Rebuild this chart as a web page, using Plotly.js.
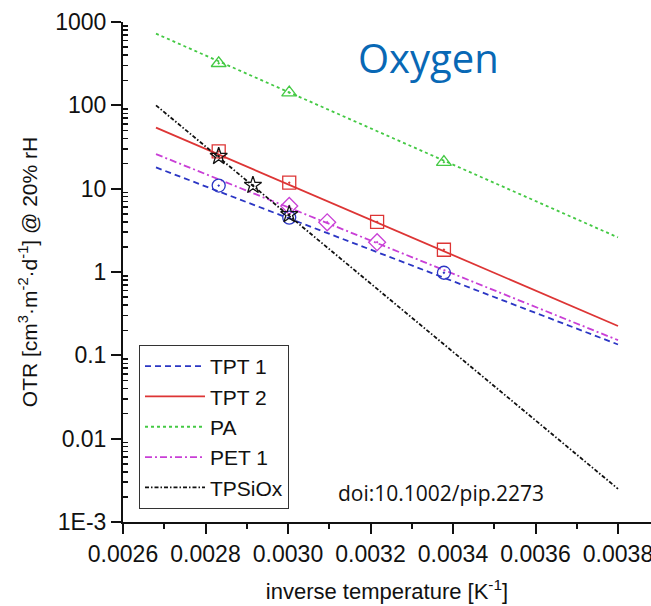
<!DOCTYPE html>
<html>
<head>
<meta charset="utf-8">
<script src="https://cdn.plot.ly/plotly-3.0.1.min.js"></script>
<style>html,body{margin:0;padding:0;background:#fff;}#chart{width:651px;height:606px;}</style>
</head>
<body>
<div id="chart"></div>
<script>
// Series names
const seriesNames = ["TPT 1", "TPT 2", "PA", "PET 1", "TPSiOx"];
// Fitted Arrhenius lines (x endpoints in 1/K)
const fitX = [0.00268, 0.0038];
const fitTPT1 = [18.0, 0.135];
const fitTPT2 = [54.0, 0.225];
const fitPA = [725, 2.6];
const fitPET1 = [26.0, 0.152];
const fitTPSiOx = [100, 0.0025];
// Measured points
const xTPT1 = [0.002832, 0.003003, 0.003378];
const yTPT1 = [10.9, 4.5, 0.98];
const xTPT2 = [0.002832, 0.003003, 0.003216, 0.003378];
const yTPT2 = [28, 11.8, 4.0, 1.85];
const xPA = [0.002832, 0.003003, 0.003378];
const yPA = [320, 142, 20.8];
const xPET1 = [0.003003, 0.003095, 0.003216];
const yPET1 = [6.2, 3.95, 2.28];
const xTPSiOx = [0.002832, 0.002915, 0.003003];
const yTPSiOx = [24.5, 11.0, 4.9];
// Tick labels
const yTickVals = [0.001, 0.01, 0.1, 1, 10, 100, 1000];
const yTickText = ["1E-3", "0.01", "0.1", "1", "10", "100", "1000"];

const colors = ["#2b36c4", "#dd3535", "#44c944", "#c93fd6", "#111111"];
const dashes = ["6px,4px", "solid", "3px,3px", "7px,3px,2px,3px", "4px,2px,1.5px,2px"];
const symbols = ["circle-open-dot", "square-open-dot", "triangle-up-open-dot", "diamond-open-dot", "star-open-dot"];
const fits = [fitTPT1, fitTPT2, fitPA, fitPET1, fitTPSiOx];
const ptsX = [xTPT1, xTPT2, xPA, xPET1, xTPSiOx];
const ptsY = [yTPT1, yTPT2, yPA, yPET1, yTPSiOx];

const traces = [];
for (let i = 0; i < seriesNames.length; i++) {
  traces.push({
    x: fitX, y: fits[i], type: "scatter", mode: "lines", name: seriesNames[i],
    line: {color: colors[i], width: 1.8, dash: dashes[i]}, showlegend: true
  });
}
for (let i = 0; i < seriesNames.length; i++) {
  traces.push({
    x: ptsX[i], y: ptsY[i], type: "scatter", mode: "markers", name: seriesNames[i],
    marker: {symbol: symbols[i], size: 13, color: colors[i], line: {width: 1.3, color: colors[i]}},
    showlegend: false
  });
}

const minorY = [];
for (let e = -3; e < 3; e++) {
  for (let m = 2; m <= 9; m++) minorY.push(m * Math.pow(10, e));
}

const font = "Liberation Sans, Arial, sans-serif";
const layout = {
  width: 651, height: 606,
  margin: {l: 123, r: 0, t: 22, b: 84},
  paper_bgcolor: "#fff", plot_bgcolor: "#fff",
  showlegend: true,
  font: {family: font, size: 21, color: "#111"},
  xaxis: {
    range: [0.0026, 0.00388], tickmode: "linear", tick0: 0.0026, dtick: 0.0002,
    tickformat: ".4f", showgrid: false, zeroline: false, ticklabeloverflow: "allow",
    showline: true, linecolor: "#111", linewidth: 2,
    ticks: "outside", ticklen: 10, tickwidth: 2, tickcolor: "#111",
    minor: {dtick: 0.0001, ticks: "outside", ticklen: 5, tickwidth: 2, tickcolor: "#111"},
    tickfont: {family: font, size: 23, color: "#111"},
    title: {text: "inverse temperature [K<sup>-1</sup>]", font: {family: font, size: 22, color: "#111"}, standoff: 18}
  },
  yaxis: {
    type: "log", range: [-3, 3], tickmode: "array", tickvals: yTickVals, ticktext: yTickText,
    showgrid: false, zeroline: false, ticklabeloverflow: "allow",
    showline: true, linecolor: "#111", linewidth: 2,
    ticks: "outside", ticklen: 10, tickwidth: 2, tickcolor: "#111",
    minor: {tickmode: "array", tickvals: minorY, ticks: "inside", ticklen: 5, tickwidth: 1.5, tickcolor: "#111"},
    tickfont: {family: font, size: 23, color: "#111"},
    title: {text: "OTR [cm<sup>3</sup>·m<sup>-2</sup>·d<sup>-1</sup>] @ 20% rH", font: {family: font, size: 21, color: "#111"}, standoff: 12}
  },
  legend: {
    x: 0.0303, y: 0.354, xanchor: "left", yanchor: "top",
    bordercolor: "#333", borderwidth: 1, bgcolor: "#fff",
    font: {family: font, size: 21, color: "#111"}, itemwidth: 60, tracegroupgap: 0
  },
  annotations: [
    {text: "Oxygen", xref: "paper", yref: "paper", x: 0.5795, y: 0.928, xanchor: "center", yanchor: "middle",
     showarrow: false, font: {family: "Open Sans, sans-serif", size: 40, color: "#0868b5"}},
    {text: "doi:10.1002/pip.2273", xref: "paper", yref: "paper", x: 0.603, y: 0.058, xanchor: "center", yanchor: "middle",
     showarrow: false, font: {family: "Open Sans, sans-serif", size: 21, color: "#111"}}
  ]
};

Plotly.newPlot("chart", traces, layout, {displayModeBar: false, staticPlot: true});
</script>
</body>
</html>
